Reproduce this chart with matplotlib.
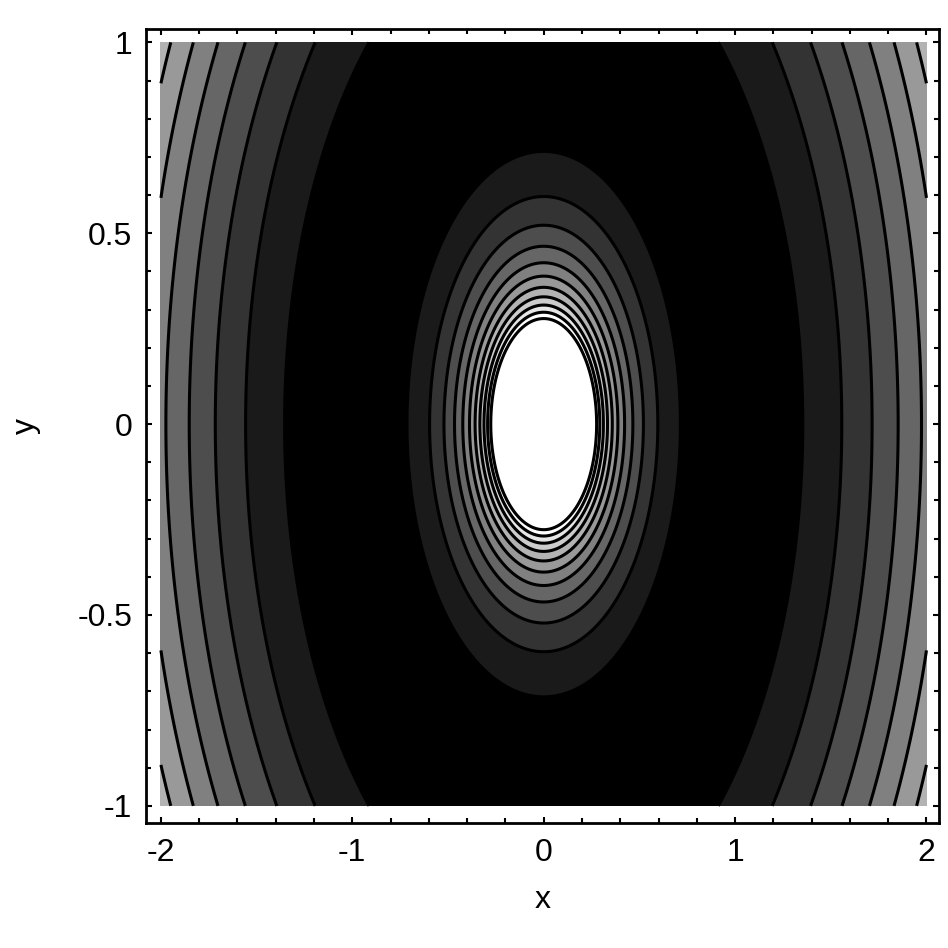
"""
Grey contour map of f(x, y) = r^2 + 2/r, r = sqrt(x^2 + y^2),
drawn in the style of an old Mathematica ContourPlot.
"""

import numpy as np
import matplotlib.pyplot as plt

# contour values (innermost white region lies above the last one)
LEVELS = [3.31, 3.71, 4.11, 4.51, 4.91, 5.31, 5.71, 6.11, 6.51, 6.91, 7.31]
# grey level of each band, from the minimum upward
BAND_GREYS = [0.0, 0.1, 0.2, 0.3, 0.4, 0.5, 0.6, 0.7, 0.8, 0.9, 1.0]

X_RANGE = (-2.0, 2.0)
Y_RANGE = (-1.0, 1.0)
X_TICKS = [-2, -1, 0, 1, 2]
Y_TICKS = [-1, -0.5, 0, 0.5, 1]
Y_TICK_LABELS = ["-1", "-0.5", "0", "0.5", "1"]
X_MINOR_STEP = 0.2
Y_MINOR_STEP = 0.1


def surface(n: int = 800):
    """Sample f on a fine grid over the plot range."""
    x = np.linspace(*X_RANGE, n)
    y = np.linspace(*Y_RANGE, n)
    xx, yy = np.meshgrid(x, y)
    r = np.hypot(xx, yy)
    r = np.maximum(r, 1e-6)
    return xx, yy, r ** 2 + 2.0 / r


def main() -> None:
    plt.rcParams["font.family"] = ["Liberation Sans", "DejaVu Sans"]
    plt.rcParams["axes.unicode_minus"] = False

    fig = plt.figure(figsize=(9.48, 9.48), dpi=100)
    ax = fig.add_axes([0.154, 0.132, 0.836, 0.837])

    xx, yy, zz = surface()
    bounds = [zz.min() - 1.0] + LEVELS
    colors = [str(g) for g in BAND_GREYS]
    ax.contourf(xx, yy, zz, levels=bounds, colors=colors)
    ax.contour(xx, yy, zz, levels=LEVELS, colors="black", linewidths=2.2)

    ax.set_xlim(-2.078, 2.063)
    ax.set_ylim(-1.0445, 1.034)

    ax.set_xticks(X_TICKS)
    ax.set_xticklabels([str(t) for t in X_TICKS])
    ax.set_yticks(Y_TICKS)
    ax.set_yticklabels(Y_TICK_LABELS)
    ax.set_xticks(np.arange(-2, 2.01, X_MINOR_STEP), minor=True)
    ax.set_yticks(np.arange(-1, 1.01, Y_MINOR_STEP), minor=True)

    ax.tick_params(which="both", direction="in", top=True, right=True,
                   width=1.5, labelsize=23, colors="black")
    ax.tick_params(which="major", length=4.5)
    ax.tick_params(which="minor", length=3.5)
    ax.tick_params(axis="x", pad=11)
    ax.tick_params(axis="y", pad=10)

    for spine in ax.spines.values():
        spine.set_linewidth(2.0)

    ax.set_xlabel("x", fontsize=23, labelpad=12)
    ax.set_ylabel("y", fontsize=23, labelpad=26)

    fig.savefig("out.png", dpi=100)


if __name__ == "__main__":
    main()
